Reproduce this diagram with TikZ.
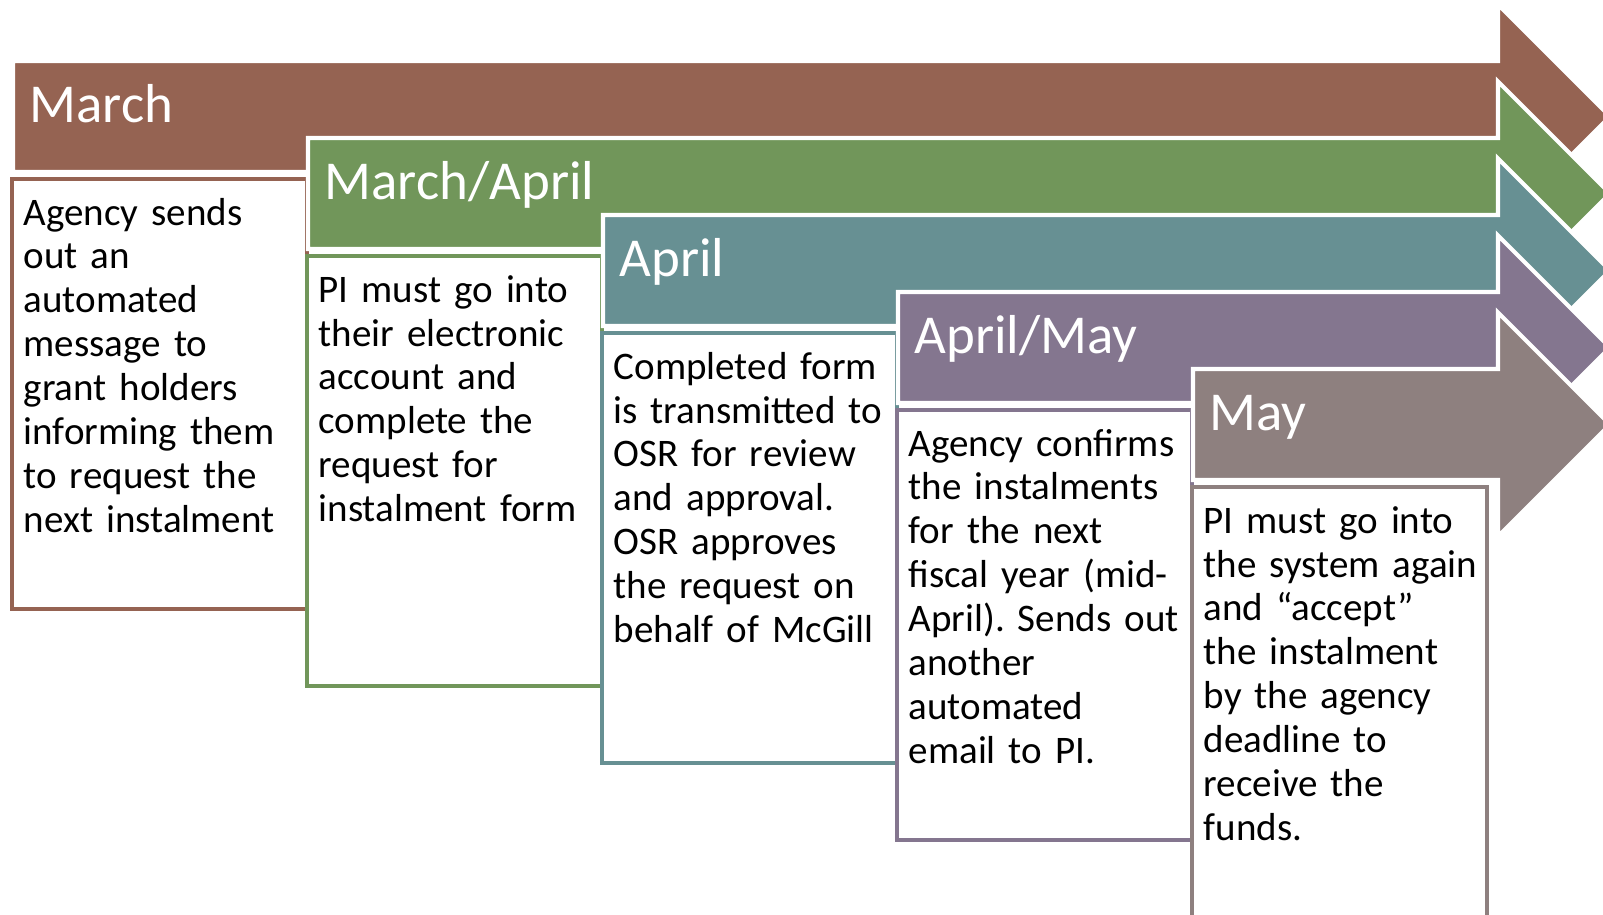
\documentclass[tikz,border=0pt]{standalone}
\usepackage{fontspec}
\setmainfont{Carlito}
\usepackage{xcolor}
\usepackage{tikz}
\definecolor{marchc}{RGB}{149,99,82}
\definecolor{marchaprc}{RGB}{113,150,90}
\definecolor{aprc}{RGB}{103,144,147}
\definecolor{aprmayc}{RGB}{132,118,143}
\definecolor{mayc}{RGB}{142,128,127}

\begin{document}
\frenchspacing
\begin{tikzpicture}[x=0.01cm, y=-0.01cm,
    monthlabel/.style={anchor=base west, inner sep=0pt, text=white,
        font=\fontsize{15.6}{18}\selectfont},
    notebox/.style={draw=#1, line width=1.2pt, fill=white, anchor=north west,
        minimum width=2.95cm, minimum height=4.3cm, inner sep=0pt},
    notetext/.style={anchor=base west, inner sep=0pt, text width=2.85cm,
        align=left, font=\fontsize{11.1}{12.5}\selectfont}]
    \useasboundingbox (0,0) rectangle (1603,914);

    % one arrow and its note per step
    \foreach \i/\c/\m/\t in {
        0/marchc/March/{Agency sends\\out an\\automated\\message to\\grant holders\\informing them\\to request the\\next instalment},
        1/marchaprc/March\slash April/{PI must go into\\their electronic\\account and\\complete the\\request for\\instalment form},
        2/aprc/April/{Completed form\\is transmitted to\\OSR for review\\and approval.\\OSR approves\\the request on\\behalf of McGill},
        3/aprmayc/April\slash May/{Agency confirms\\the instalments\\for the next\\fiscal year (mid-\\April). Sends out\\another\\automated\\email to PI.},
        4/mayc/May/{PI must go into\\the system again\\and “accept”\\the instalment\\by the agency\\deadline to\\receive the\\funds.}}
    {
        \pgfmathsetmacro{\L}{13+295*\i}
        \pgfmathsetmacro{\T}{61+77*\i}
        \draw[white, line width=1.2pt, fill=\c] (\L,\T) -- (1498,\T)
            -- (1498,\T-56.5) -- (1610,\T+55.5) -- (1498,\T+167.5)
            -- (1498,\T+111) -- (\L,\T+111) -- cycle;
        \node[monthlabel] (month\i) at (\L+16,\T+61) {\m};
        \node[notebox=\c] (note\i) at (\L-3,\T+116) {};
        \node[notetext] (text\i) at ([xshift=0.13cm, yshift=-0.48cm]note\i.north west) {\t};
    }
\end{tikzpicture}
\end{document}
